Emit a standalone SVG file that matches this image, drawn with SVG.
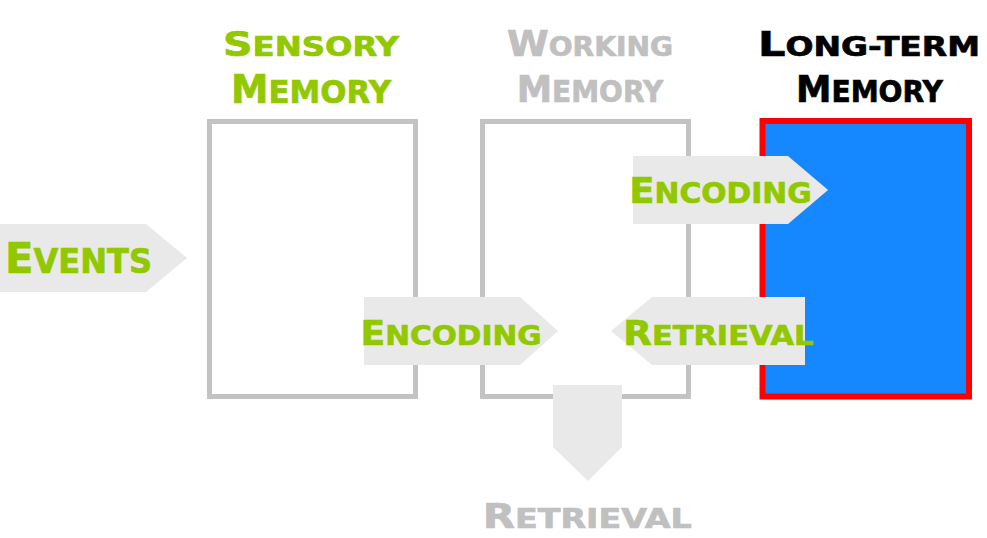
<svg xmlns="http://www.w3.org/2000/svg" width="987" height="538" viewBox="0 0 987 538">
<style>
.t{font-family:"DejaVu Sans","Liberation Sans",sans-serif;font-weight:bold;text-anchor:middle;stroke-width:0.7}
.g{fill:#92c800;stroke:#92c800}
.gr{fill:#c0c0c0;stroke:#c0c0c0}
.k{fill:#000;stroke:#000}
.box{fill:none;stroke:#c3c3c3;stroke-width:5}
.arr{fill:#e9e9e9}
</style>
<rect width="987" height="538" fill="#fff"/>
<g id="sensory">
<rect class="box" x="209.5" y="121.5" width="206" height="275"/>
<text class="t g" x="311" y="56" textLength="176" lengthAdjust="spacingAndGlyphs"><tspan font-size="33">S</tspan><tspan font-size="26">ENSORY</tspan></text>
<text class="t g" x="311" y="102.5" textLength="160" lengthAdjust="spacingAndGlyphs"><tspan font-size="39">M</tspan><tspan font-size="32">EMORY</tspan></text>
</g>
<g id="working">
<rect class="box" x="482.5" y="121.5" width="206" height="275"/>
<text class="t gr" x="590" y="56" textLength="166" lengthAdjust="spacingAndGlyphs"><tspan font-size="35">W</tspan><tspan font-size="26">ORKING</tspan></text>
<text class="t gr" x="590" y="102" textLength="146.6" lengthAdjust="spacingAndGlyphs"><tspan font-size="38">M</tspan><tspan font-size="30">EMORY</tspan></text>
</g>
<g id="longterm">
<rect x="762.5" y="121" width="206.5" height="275.5" fill="#1688ff" stroke="#ff0000" stroke-width="6"/>
<text class="t k" x="869" y="56" textLength="222" lengthAdjust="spacingAndGlyphs"><tspan font-size="34">L</tspan><tspan font-size="26">ONG-TERM</tspan></text>
<text class="t k" x="869.5" y="102" textLength="147" lengthAdjust="spacingAndGlyphs"><tspan font-size="38">M</tspan><tspan font-size="30">EMORY</tspan></text>
</g>
<g id="connectors">
<g id="events">
<polygon class="arr" points="0,224 146,224 187,258 146,292 0,292"/>
<text class="t g" x="78.5" y="273" textLength="147" lengthAdjust="spacingAndGlyphs"><tspan font-size="43">E</tspan><tspan font-size="33">VENTS</tspan></text>
</g>
<g id="encoding1">
<polygon class="arr" points="364,297 520,297 558,331 520,365 364,365"/>
<text class="t g" x="451" y="345" textLength="181" lengthAdjust="spacingAndGlyphs"><tspan font-size="33">E</tspan><tspan font-size="27">NCODING</tspan></text>
</g>
<g id="encoding2">
<polygon class="arr" points="633,156 788,156 828,190 788,224 633,224"/>
<text class="t g" x="720.5" y="203" textLength="182.4" lengthAdjust="spacingAndGlyphs"><tspan font-size="36">E</tspan><tspan font-size="29">NCODING</tspan></text>
</g>
<g id="retrieval1">
<polygon class="arr" points="805,297 652,297 611,331 652,365 805,365"/>
<text class="t g" x="718.3" y="345" textLength="190" lengthAdjust="spacingAndGlyphs"><tspan font-size="33">R</tspan><tspan font-size="27">ETRIEVAL</tspan></text>
</g>
<g id="retrieval2">
<polygon class="arr" points="553,385 622,385 622,447 588,481 553,447"/>
<text class="t gr" x="587.2" y="528" textLength="209" lengthAdjust="spacingAndGlyphs"><tspan font-size="34">R</tspan><tspan font-size="27">ETRIEVAL</tspan></text>
</g>
</g>
</svg>
